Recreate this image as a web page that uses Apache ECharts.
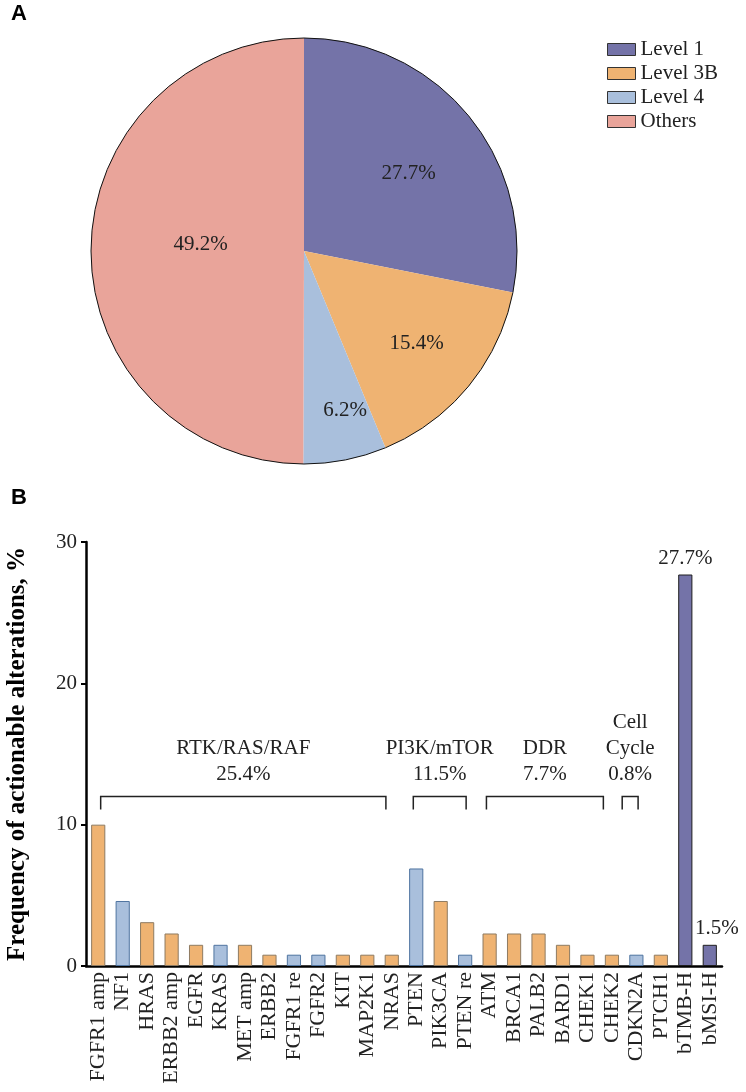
<!DOCTYPE html>
<html>
<head>
<meta charset="utf-8">
<script src="https://cdn.jsdelivr.net/npm/echarts@6/dist/echarts.min.js"></script>
<style>
html,body{margin:0;padding:0;background:#fff;}
#chart{width:746px;height:1092px;}
</style>
</head>
<body>
<div id="chart"></div>
<script>
// ---- Panel A data ----
const pieNames = ['Level 1', 'Level 3B', 'Level 4', 'Others'];
const pieValues = [27.7, 15.4, 6.2, 49.2];

// ---- Panel B data ----
const genes = ['FGFR1 amp','NF1','HRAS','ERBB2 amp','EGFR','KRAS','MET amp','ERBB2','FGFR1 re','FGFR2','KIT','MAP2K1','NRAS',
  'PTEN','PIK3CA','PTEN re','ATM','BRCA1','PALB2','BARD1','CHEK1','CHEK2','CDKN2A','PTCH1','bTMB-H','bMSI-H'];
const freqs = [10.0,4.6,3.1,2.3,1.5,1.5,1.5,0.8,0.8,0.8,0.8,0.8,0.8,
  6.9,4.6,0.8,2.3,2.3,2.3,1.5,0.8,0.8,0.8,0.8,27.7,1.5];
const levels = ['3B','4','3B','3B','3B','4','3B','3B','4','4','3B','3B','3B',
  '4','3B','4','3B','3B','3B','3B','3B','3B','4','3B','1','1'];
const labelledBars = ['bTMB-H','bMSI-H'];
const yTicks = [0, 10, 20, 30];

// pathway groups (span in category-index units)
const groupNames = ['RTK/RAS/RAF', 'PI3K/mTOR', 'DDR', 'Cell\nCycle'];
const groupPcts = ['25.4%', '11.5%', '7.7%', '0.8%'];
const groupStart = [0.1, 12.88, 15.87, 21.42];
const groupEnd = [11.76, 15.04, 20.65, 22.07];

// ---- styles ----
const FONT = '"Liberation Serif", "Times New Roman", serif';
const fill = { '1': '#7473a8', '3B': '#efb372', '4': '#a9bfdc', 'Others': '#e9a49a' };
const edge = { '1': '#1e1e1e', '3B': '#8e7b62', '4': '#4f74a0' };
const pieColors = [fill['1'], fill['3B'], fill['4'], fill['Others']];
const pieLabelShift = [[20, -8], [28, 23], [20, 52], [6, -6]];

const chart = echarts.init(document.getElementById('chart'), null, { renderer: 'canvas' });

const barData = freqs.map((v, i) => ({
  value: v,
  itemStyle: { color: fill[levels[i]], borderColor: edge[levels[i]], borderWidth: 1 },
  label: labelledBars.indexOf(genes[i]) >= 0 ? {
    show: true, position: 'top', distance: 6,
    offset: genes[i] === 'bMSI-H' ? [7, 0] : [0, 0],
    formatter: p => p.value + '%', fontFamily: FONT, fontSize: 21, color: '#222'
  } : { show: false }
}));

const groupData = groupNames.map((n, i) => [groupStart[i], groupEnd[i], i]);

function coordAt(api, idx, val) {
  const base = Math.floor(idx);
  const frac = idx - base;
  const bw = api.size([1, 0])[0];
  const p = api.coord([base, val]);
  return [p[0] + frac * bw, p[1]];
}

const option = {
  backgroundColor: '#fff',
  animation: false,
  title: [
    { text: 'A', left: 6, top: -2, textStyle: { fontFamily: '"Liberation Sans", Arial, sans-serif', fontWeight: 'bold', fontSize: 22, color: '#000' } },
    { text: 'B', left: 6, top: 482, textStyle: { fontFamily: '"Liberation Sans", Arial, sans-serif', fontWeight: 'bold', fontSize: 22, color: '#000' } }
  ],
  legend: {
    data: pieNames,
    orient: 'vertical',
    left: 602, top: 34,
    itemWidth: 28, itemHeight: 12, itemGap: 3,
    icon: 'rect',
    itemStyle: { borderColor: '#333', borderWidth: 1 },
    textStyle: { fontFamily: FONT, fontSize: 21, color: '#222', lineHeight: 20, padding: [0, 0, 0, 0] },
    selectedMode: false
  },
  grid: { left: 86, right: 24, top: 542, bottom: 126, containLabel: false, outerBoundsMode: 'none' },
  xAxis: {
    type: 'category', data: genes,
    axisTick: { show: false },
    axisLine: { lineStyle: { color: '#000', width: 2.5 } },
    axisLabel: { rotate: 90, interval: 0, margin: 6, fontFamily: FONT, fontSize: 22, color: '#222' }
  },
  yAxis: {
    type: 'value', min: yTicks[0], max: yTicks[yTicks.length - 1], interval: yTicks[1] - yTicks[0],
    name: 'Frequency of actionable alterations, %',
    nameLocation: 'middle', nameGap: 56,
    nameTextStyle: { fontFamily: FONT, fontSize: 25, fontWeight: 'bold', color: '#000' },
    axisLine: { show: true, lineStyle: { color: '#000', width: 2.5 } },
    axisTick: { show: true, length: 5, lineStyle: { color: '#000', width: 2 } },
    splitLine: { show: false },
    axisLabel: { margin: 9, fontFamily: FONT, fontSize: 21, color: '#222' }
  },
  series: [
    {
      type: 'pie', name: 'levels',
      center: [304, 251], radius: 213,
      startAngle: 90, clockwise: true,
      data: pieNames.map((n, i) => ({ name: n, value: pieValues[i], itemStyle: { color: pieColors[i] } })),
      itemStyle: { borderWidth: 0 },
      label: { show: true, position: 'inside', formatter: p => p.value + '%', fontFamily: FONT, fontSize: 21, color: '#222' },
      labelLine: { show: false },
      labelLayout: p => ({ dx: pieLabelShift[p.dataIndex][0], dy: pieLabelShift[p.dataIndex][1] }),
      emphasis: { disabled: true },
      silent: true
    },
    {
      type: 'pie', name: 'outline',
      center: [304, 251], radius: 213,
      data: [{ name: 'outline', value: 1 }],
      itemStyle: { color: 'rgba(0,0,0,0)', borderColor: '#111', borderWidth: 1 },
      label: { show: false }, labelLine: { show: false },
      emphasis: { disabled: true }, silent: true, z: 3
    },
    {
      type: 'bar', data: barData,
      barCategoryGap: '42%',
      emphasis: { disabled: true }, silent: true
    },
    {
      type: 'custom',
      data: groupData,
      silent: true,
      z: 5,
      renderItem: function (params, api) {
        const i = api.value(2);
        const a = coordAt(api, api.value(0), 12);
        const b = coordAt(api, api.value(1), 12);
        const yTop = a[1];
        const yBot = yTop + 13;
        const cx = (a[0] + b[0]) / 2;
        return {
          type: 'group',
          children: [
            { type: 'polyline', shape: { points: [[a[0], yBot], [a[0], yTop], [b[0], yTop], [b[0], yBot]] },
              style: { stroke: '#222', lineWidth: 1.5, fill: null } },
            { type: 'text', style: { text: groupNames[i] + '\n' + groupPcts[i], x: cx, y: yTop - 9,
              align: 'center', verticalAlign: 'bottom', font: '21px ' + FONT, lineHeight: 26, fill: '#222' } }
          ]
        };
      }
    }
  ]
};
chart.setOption(option);
</script>
</body>
</html>
